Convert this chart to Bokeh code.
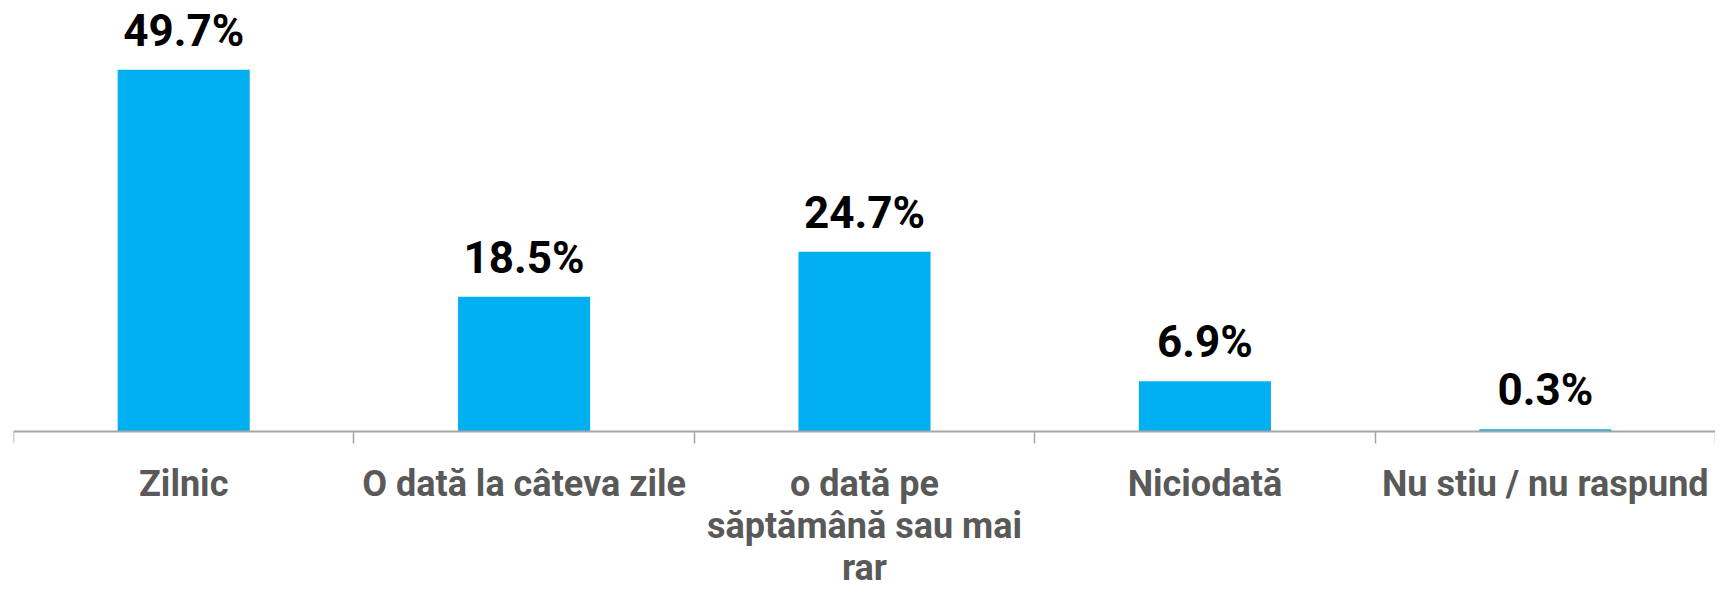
from bokeh.plotting import figure
from bokeh.models import FixedTicker, ColumnDataSource, Range1d
from bokeh.core.properties import value
from bokeh.embed import file_html
from bokeh.resources import INLINE

categories = ["Zilnic", "O dată la câteva zile", "o dată pe\nsăptămână sau mai\nrar", "Niciodată", "Nu stiu / nu raspund"]
values = [49.7, 18.5, 24.7, 6.9, 0.3]
labels = ["49.7%", "18.5%", "24.7%", "6.9%", "0.3%"]

xs = [i + 0.5 for i in range(len(categories))]
src = ColumnDataSource(dict(x=xs, top=values, label=labels))

FONT = "Roboto"

p = figure(width=1715, height=588, output_backend="svg", toolbar_location=None,
           x_range=Range1d(0, len(categories)), y_range=Range1d(-21.57, 59.2),
           min_border_left=13, min_border_right=0, min_border_top=0, min_border_bottom=0)
p.outline_line_color = None
p.grid.visible = False
p.yaxis.visible = False

p.vbar(x="x", top="top", width=0.388, bottom=0, source=src, color="#00B0F0", line_color=None)
p.text(x="x", y="top", text="label", source=src, text_align="center", text_baseline="alphabetic",
       y_offset=-39, text_font=value(FONT), text_font_style="bold", text_font_size="44px", text_color="#000000")

ax = p.xaxis[0]
ax.fixed_location = 0
ax.ticker = FixedTicker(ticks=xs, minor_ticks=list(range(len(categories) + 1)))
ax.major_label_overrides = {x: c for x, c in zip(xs, categories)}
ax.major_tick_out = 0
ax.major_tick_in = 0
ax.minor_tick_out = 12
ax.minor_tick_in = 0
ax.minor_tick_line_color = "#A6A6A6"
ax.minor_tick_line_width = 1.5
ax.axis_line_color = "#A6A6A6"
ax.axis_line_width = 2
ax.major_label_standoff = 20
ax.major_label_text_font = FONT
ax.major_label_text_font_style = "bold"
ax.major_label_text_font_size = "36px"
ax.major_label_text_color = "#595959"
ax.major_label_text_line_height = 1.0

open("out.html", "w").write(file_html(p, INLINE))
